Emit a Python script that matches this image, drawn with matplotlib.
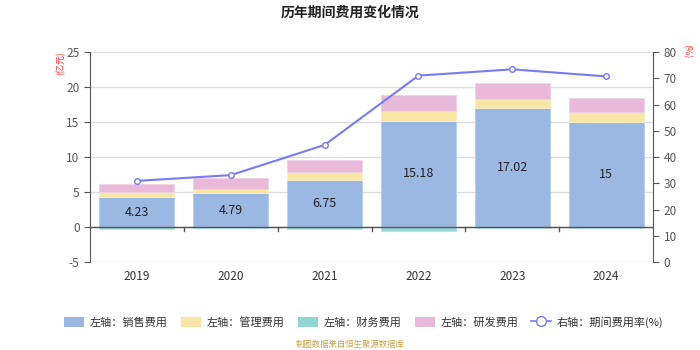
import numpy as np
import matplotlib
matplotlib.use('Agg')
import matplotlib.pyplot as plt
from matplotlib.patches import Patch
from matplotlib.lines import Line2D

plt.rcParams['font.family'] = ['Noto Sans CJK SC', 'DejaVu Sans']
plt.rcParams['axes.unicode_minus'] = False

years = ['2019', '2020', '2021', '2022', '2023', '2024']
sales = [4.23, 4.79, 6.75, 15.18, 17.02, 15.0]
admin = [0.75, 0.7, 1.1, 1.45, 1.3, 1.5]
finance = [-0.25, -0.2, -0.25, -0.6, -0.2, -0.15]
rnd = [1.2, 1.5, 1.75, 2.3, 2.3, 2.0]
rate = [30.9, 33.1, 44.6, 71.0, 73.4, 70.7]

c_sales = '#9bb8e2'
c_admin = '#f8e6a6'
c_fin = '#92d6d4'
c_rnd = '#e8b9d9'
c_line = '#7a7af5'

fig = plt.figure(figsize=(7, 3.5), dpi=100)
ax = fig.add_axes([0.1286, 0.2514, 0.8043, 0.6])
x = np.arange(len(years))
w = 0.8

sales = np.array(sales)
admin = np.array(admin)
rnd = np.array(rnd)
ax.bar(x, sales, w, color=c_sales, edgecolor='#b4cdf0', linewidth=0.6, zorder=3)
ax.bar(x, admin, w, bottom=sales, color=c_admin, edgecolor='#fbefc4', linewidth=0.6, zorder=3)
ax.bar(x, finance, w, color=c_fin, edgecolor='#b0e6e4', linewidth=0.6, zorder=3)
ax.bar(x, rnd, w, bottom=sales + admin, color=c_rnd, edgecolor='#f2d2e8', linewidth=0.6, zorder=3)

for xi, v in zip(x, sales):
    ax.text(xi, v / 2, f'{v:g}', ha='center', va='center', fontsize=9, color='#222222', zorder=5)

ax.set_xlim(-0.5, len(years) - 0.5)
ax.set_ylim(-5, 25)
ax.set_yticks(np.arange(-5, 26, 5))
ax.yaxis.grid(True, color='#dddddd', linewidth=1, zorder=0)
ax.set_axisbelow(True)
for s in ['top', 'right', 'bottom']:
    ax.spines[s].set_visible(False)
ax.spines['left'].set_color('#555555')
ax.tick_params(axis='y', colors='#555555', labelsize=8.5, length=4, color='#555555')
ax.set_xticks(x)
ax.set_xticklabels(years)
ax.tick_params(axis='x', length=0, labelsize=8.5, colors='#333333', pad=6)

# zero line with category boundary ticks
ax.axhline(0, color='#555555', linewidth=1, zorder=4)
for b in np.arange(0.5, len(years) - 0.5, 1):
    ax.plot([b, b], [0, -0.6], color='#555555', linewidth=1, zorder=4, clip_on=False)

ax2 = ax.twinx()
ax2.plot(x, rate, color=c_line, linewidth=1.5, marker='o', markersize=4,
         markerfacecolor='white', markeredgecolor=c_line, markeredgewidth=1, zorder=6)
ax2.set_ylim(0, 80)
ax2.set_yticks(np.arange(0, 81, 10))
for s in ['top', 'left', 'bottom']:
    ax2.spines[s].set_visible(False)
ax2.spines['right'].set_color('#555555')
ax2.tick_params(axis='y', colors='#555555', labelsize=8.5, length=4, color='#555555')

fig.text(0.5, 0.965, '历年期间费用变化情况', ha='center', va='center', fontsize=10,
         fontweight='bold', color='#222222')
fig.text(0.086, 0.82, '(亿元)', ha='center', va='center', rotation=90, fontsize=6.5, color='#ff3333')
fig.text(0.98, 0.855, '(%)', ha='center', va='center', rotation=-90, fontsize=6.5, color='#ff3333')

handles = [
    Patch(facecolor=c_sales, edgecolor='none'),
    Patch(facecolor=c_admin, edgecolor='none'),
    Patch(facecolor=c_fin, edgecolor='none'),
    Patch(facecolor=c_rnd, edgecolor='none'),
    Line2D([0], [0], color=c_line, marker='o', markersize=7, markerfacecolor='white',
           markeredgecolor=c_line, linewidth=1.2),
]
labels = ['左轴：销售费用', '左轴：管理费用', '左轴：财务费用', '左轴：研发费用', '右轴：期间费用率(%)']
fig.legend(handles, labels, loc='center', bbox_to_anchor=(0.52, 0.08), ncol=5, frameon=False,
           fontsize=8, handlelength=1.8, handleheight=1.0, columnspacing=1.2, handletextpad=0.5,
           labelcolor='#333333')

fig.text(0.5, 0.015, '制图数据来自恒生聚源数据库', ha='center', va='center', fontsize=6, color='#c9a04a')

fig.savefig('out.png', dpi=100)
